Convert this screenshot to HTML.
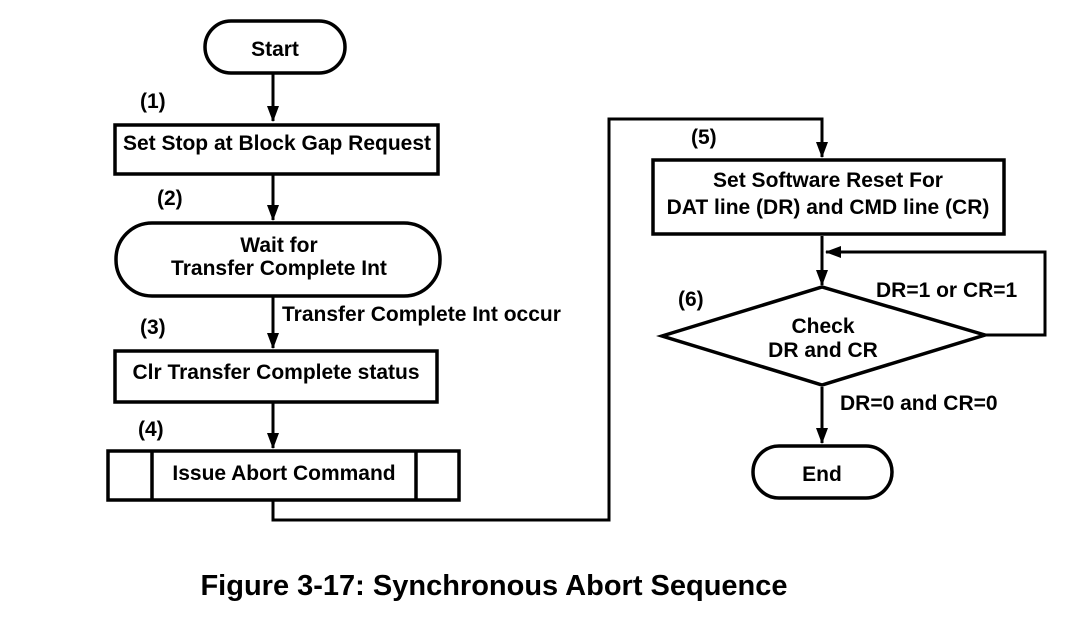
<!DOCTYPE html>
<html><head><meta charset="utf-8"><style>
html,body{margin:0;padding:0;background:#fff}
svg text{font-family:"Liberation Sans",Arial,sans-serif;font-weight:bold;fill:#000}
</style></head><body>
<svg width="1081" height="620" viewBox="0 0 1081 620" xmlns="http://www.w3.org/2000/svg">
<defs><marker id="a" markerWidth="16" markerHeight="12" refX="15" refY="6" orient="auto" markerUnits="userSpaceOnUse"><path d="M0,0 L16,6 L0,12 z" fill="#000"/></marker></defs>
<g fill="none" stroke="#000" stroke-width="3.5">
<rect x="205" y="21" width="140" height="52" rx="26"/>
<rect x="115" y="125" width="323" height="49"/>
<rect x="116" y="223" width="324" height="73" rx="36"/>
<rect x="115" y="351" width="322" height="51"/>
<rect x="108" y="451" width="351" height="49"/>
<line x1="152" y1="451" x2="152" y2="500"/>
<line x1="416" y1="451" x2="416" y2="500"/>
<rect x="653" y="160" width="351" height="74"/>
<polygon points="662,336 822,287 985,335 822,385"/>
<rect x="753" y="446" width="139" height="52" rx="26"/>
</g>
<g fill="none" stroke="#000" stroke-width="3">
<line x1="273" y1="73" x2="273" y2="121" marker-end="url(#a)"/>
<line x1="273" y1="174" x2="273" y2="220" marker-end="url(#a)"/>
<line x1="273" y1="296" x2="273" y2="348" marker-end="url(#a)"/>
<line x1="273" y1="402" x2="273" y2="448" marker-end="url(#a)"/>
<polyline points="273,500 273,520 609,520 609,119 822,119 822,157" marker-end="url(#a)"/>
<line x1="822" y1="236" x2="822" y2="285" marker-end="url(#a)"/>
<polyline points="985,335 1045,335 1045,252 826,252" marker-end="url(#a)"/>
<line x1="822" y1="387" x2="822" y2="443" marker-end="url(#a)"/>
</g>
<g font-size="21">
<text x="275" y="56" text-anchor="middle">Start</text>
<text x="140" y="108">(1)</text>
<text x="277" y="150" text-anchor="middle">Set Stop at Block Gap Request</text>
<text x="157" y="205">(2)</text>
<text x="279" y="252" text-anchor="middle">Wait for</text>
<text x="279" y="275" text-anchor="middle">Transfer Complete Int</text>
<text x="282" y="321">Transfer Complete Int occur</text>
<text x="140" y="334">(3)</text>
<text x="276" y="379" text-anchor="middle">Clr Transfer Complete status</text>
<text x="138" y="436">(4)</text>
<text x="284" y="480" text-anchor="middle">Issue Abort Command</text>
<text x="691" y="144">(5)</text>
<text x="828" y="187" text-anchor="middle">Set Software Reset For</text>
<text x="828" y="214" text-anchor="middle">DAT line (DR) and CMD line (CR)</text>
<text x="678" y="306">(6)</text>
<text x="876" y="297">DR=1 or CR=1</text>
<text x="823" y="333" text-anchor="middle">Check</text>
<text x="823" y="357" text-anchor="middle">DR and CR</text>
<text x="840" y="410">DR=0 and CR=0</text>
<text x="822" y="481" text-anchor="middle">End</text>
</g>
<text x="494" y="595" font-size="29" text-anchor="middle">Figure 3-17: Synchronous Abort Sequence</text>
</svg>
</body></html>
